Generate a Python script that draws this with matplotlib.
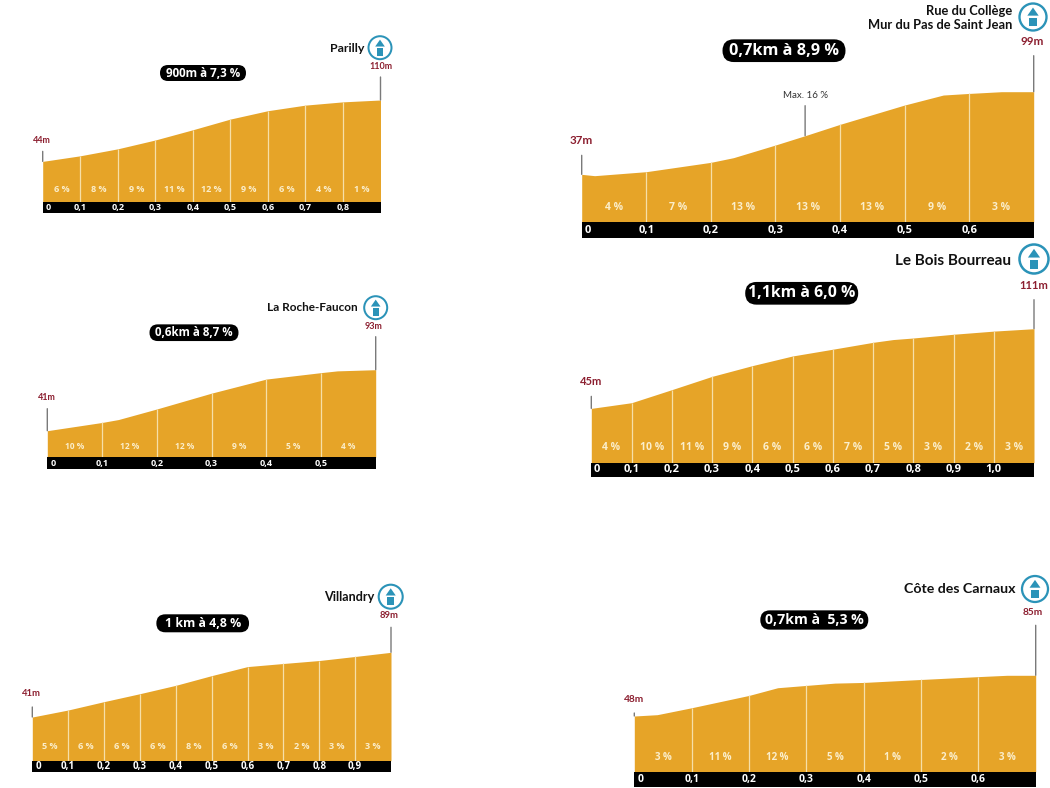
import matplotlib
matplotlib.use('Agg')
import matplotlib.pyplot as plt
import numpy as np
from matplotlib.patches import Circle, FancyBboxPatch, Polygon, Rectangle

WIDTH, HEIGHT = 1050, 788

NAMES = ['Parilly', 'Rue du Collège\nMur du Pas de Saint Jean', 'La Roche-Faucon',
         'Le Bois Bourreau', 'Villandry', 'Côte des Carnaux']
SUMMARIES = ['900m à 7,3 %', '0,7km à 8,9 %', '0,6km à 8,7 %',
             '1,1km à 6,0 %', '1 km à 4,8 %', '0,7km à  5,3 %']
START_LABELS = ['44m', '37m', '41m', '45m', '41m', '48m']
END_LABELS = ['110m', '99m', '93m', '111m', '89m', '85m']

KM_PARILLY = [0, 0.1, 0.2, 0.3, 0.4, 0.5, 0.6, 0.7, 0.8, 0.9]
ELEV_PARILLY = [44, 50, 57.5, 67, 78, 89.5, 98.5, 104.5, 108, 110]
GRADE_PARILLY = ['6 %', '8 %', '9 %', '11 %', '12 %', '9 %', '6 %', '4 %', '1 %']

KM_COLLEGE = [0, 0.02, 0.1, 0.2, 0.235, 0.3, 0.346, 0.4, 0.5, 0.56, 0.6, 0.65, 0.7]
ELEV_COLLEGE = [37, 36, 39, 46, 49.5, 59, 66, 74.5, 89, 96.5, 97.7, 99, 99]
GRADE_COLLEGE = ['4 %', '7 %', '13 %', '13 %', '13 %', '9 %', '3 %']
MAX_KM = 0.346

KM_ROCHE = [0, 0.1, 0.13, 0.2, 0.3, 0.4, 0.5, 0.53, 0.6]
ELEV_ROCHE = [41, 48, 50.5, 59.5, 73, 85, 90.5, 92, 93]
GRADE_ROCHE = ['10 %', '12 %', '12 %', '9 %', '5 %', '4 %']

KM_BOIS = [0, 0.1, 0.2, 0.3, 0.4, 0.5, 0.6, 0.7, 0.75, 0.8, 0.9, 1.0, 1.1]
ELEV_BOIS = [45, 49.7, 60.5, 71.5, 80.4, 88.4, 94, 99.7, 102, 103.3, 106.4, 109, 111]
GRADE_BOIS = ['4 %', '10 %', '11 %', '9 %', '6 %', '6 %', '7 %', '5 %', '3 %', '2 %', '3 %']

KM_VILLANDRY = [0, 0.1, 0.2, 0.3, 0.4, 0.5, 0.6, 0.7, 0.8, 0.9, 1.0]
ELEV_VILLANDRY = [41, 46.2, 52.4, 58.3, 64.5, 71.7, 78.4, 80.7, 82.9, 85.9, 89]
GRADE_VILLANDRY = ['5 %', '6 %', '6 %', '6 %', '8 %', '6 %', '3 %', '2 %', '3 %', '3 %']

KM_CARNAUX = [0, 0.04, 0.1, 0.2, 0.25, 0.3, 0.35, 0.4, 0.5, 0.6, 0.65, 0.7]
ELEV_CARNAUX = [48, 49.2, 55.5, 66.7, 73.7, 75.8, 77.9, 78.5, 81.2, 83.8, 85, 85]
GRADE_CARNAUX = ['3 %', '11 %', '12 %', '5 %', '1 %', '2 %', '3 %']

KMS = [KM_PARILLY, KM_COLLEGE, KM_ROCHE, KM_BOIS, KM_VILLANDRY, KM_CARNAUX]
ELEVS = [ELEV_PARILLY, ELEV_COLLEGE, ELEV_ROCHE, ELEV_BOIS, ELEV_VILLANDRY, ELEV_CARNAUX]
GRADES = [GRADE_PARILLY, GRADE_COLLEGE, GRADE_ROCHE, GRADE_BOIS, GRADE_VILLANDRY, GRADE_CARNAUX]
BASES = [0, 1.25, 18.3, 0, 8.6, -2.9]

# layout, in pixels of the 1050x788 picture
# left, right, top of profile, top of bar, bottom of bar
BOXES = [(42.7, 380.5, 100, 202.3, 213.3), (581.7, 1033.7, 91.7, 222, 238.3),
         (47.3, 375.7, 369.7, 457.3, 469), (591.3, 1034, 328.7, 462.7, 477),
         (32.3, 391, 652.3, 760.7, 772.3), (634.3, 1035.7, 675.3, 772, 786.7)]
STEMS = [(10, 23), (19, 36), (22, 33), (12, 29), (10, 25), (3, 50)]
START_POS = [(42, 140), (581, 140), (47, 397.7), (591, 381), (31.7, 694), (634, 699.3)]
END_POS = [(381, 66.7), (1032, 41.7), (374, 326), (1034, 285), (388.7, 616), (1033, 612.3)]
NAME_POS = [(364, 48), (1012, 17.5), (358, 307), (1010.7, 260.7), (374, 597), (1016, 589)]
ICONS = [(380, 47.7, 11.5), (1033, 17, 13.5), (375.7, 307.7, 11.5),
         (1034, 259, 14.5), (390.7, 596.7, 12), (1035, 589, 13)]
PILLS = [(203, 73, 86, 16), (784, 50.7, 123, 22.7), (194, 332.7, 89, 16.7),
         (801.7, 293.3, 113, 22.7), (202.7, 623.3, 92.7, 18), (814.3, 620, 108, 19.3)]
# font sizes: name, summary, elevation, grade, km
SIZES = [(8.9, 8.4, 6.5, 6.5, 6.5), (9.3, 11.7, 8.4, 7.5, 8), (8.5, 8.3, 6.5, 6, 6.5),
         (11, 11.4, 8, 7.5, 8), (9.1, 8.9, 6.8, 6.5, 7), (10.2, 10.2, 7.3, 7, 7.5)]
GRADE_OFFSET = [13, 15, 11, 15, 14, 14]

ORANGE = '#e6a428'
CREAM = '#f6dfa8'
LABEL = '#fbeecb'
TEAL = '#2b93b8'
RED = '#8c1f30'
GREY = '#7a7a7a'
TITLE_FONT = ['Lato', 'DejaVu Sans']
SANS = ['Open Sans', 'DejaVu Sans']


def px_axes(fig, left, right, top, bottom):
    return fig.add_axes([left / WIDTH, 1 - bottom / HEIGHT,
                         (right - left) / WIDTH, (bottom - top) / HEIGHT])


def draw_icon(overlay, x, y, r):
    overlay.add_patch(Circle((x, y), r, facecolor='white', edgecolor=TEAL, linewidth=r / 8))
    overlay.add_patch(Polygon([(x - 0.42 * r, y - 0.1 * r), (x, y - 0.7 * r), (x + 0.42 * r, y - 0.1 * r)],
                              facecolor=TEAL, edgecolor='none'))
    overlay.add_patch(Rectangle((x - 0.27 * r, y + 0.05 * r), 0.54 * r, 0.65 * r, facecolor=TEAL, edgecolor='none'))


def draw_profile(fig, i):
    left, right, top, bar_top, bar_bottom = BOXES[i]
    km = KMS[i]
    elev = ELEVS[i]
    sizes = SIZES[i]

    ax = px_axes(fig, left, right, top, bar_top)
    ax.set_xlim(0, km[-1])
    ax.set_ylim(BASES[i], max(elev))
    ax.axis('off')
    ax.fill_between(km, elev, BASES[i], color=ORANGE, linewidth=0)

    count = len(GRADES[i])
    ticks = [n / 10 for n in range(count + 1)]
    for tick in ticks[1:-1]:
        ax.vlines(tick, BASES[i], np.interp(tick, km, elev), color=CREAM, linewidth=0.9)
    for n, grade in enumerate(GRADES[i]):
        ax.annotate(grade, ((n + 0.5) / 10, BASES[i]), xytext=(0, GRADE_OFFSET[i]),
                    textcoords='offset pixels', ha='center', va='center', color=LABEL,
                    fontsize=sizes[3], fontweight='bold', family=SANS)

    for x, y, rise in [(km[0], elev[0], STEMS[i][0]), (km[-1], elev[-1], STEMS[i][1])]:
        ax.annotate('', xy=(x, y), xytext=(0, rise), textcoords='offset pixels',
                    arrowprops=dict(arrowstyle='-', color=GREY, linewidth=1, shrinkA=0, shrinkB=0))

    bar = px_axes(fig, left, right, bar_top, bar_bottom)
    bar.set_xlim(0, km[-1])
    bar.set_ylim(0, 1)
    bar.set_xticks([])
    bar.set_yticks([])
    bar.set_facecolor('black')
    for spine in bar.spines.values():
        spine.set_visible(False)
    for n, tick in enumerate(ticks[:-1]):
        label = '0' if n == 0 else f'{tick:.1f}'.replace('.', ',')
        bar.annotate(label, (tick, 0.5), xytext=(6 if n == 0 else 0, 0), textcoords='offset pixels',
                     ha='center', va='center', color='white', fontsize=sizes[4],
                     fontweight='bold', family=SANS)


def main():
    fig = plt.figure(figsize=(WIDTH / 100, HEIGHT / 100), dpi=100, facecolor='white')

    for i in range(len(NAMES)):
        draw_profile(fig, i)

    overlay = fig.add_axes([0, 0, 1, 1], zorder=5)
    overlay.set_xlim(0, WIDTH)
    overlay.set_ylim(HEIGHT, 0)
    overlay.axis('off')
    for i in range(len(NAMES)):
        sizes = SIZES[i]
        overlay.text(*NAME_POS[i], NAMES[i], ha='right', va='center', fontsize=sizes[0],
                     fontweight='bold', family=TITLE_FONT, color='#111111', linespacing=1.2)
        draw_icon(overlay, *ICONS[i])
        x, y, w, h = PILLS[i]
        overlay.add_patch(FancyBboxPatch((x - w / 2 + h / 2, y), w - h, 0,
                                         boxstyle=f'round,pad={h / 2},rounding_size={h / 2}',
                                         facecolor='black', edgecolor='none'))
        overlay.text(x, y, SUMMARIES[i], ha='center', va='center', color='white',
                     fontsize=sizes[1], fontweight='bold', family=SANS)
        overlay.text(*START_POS[i], START_LABELS[i], ha='center', va='center', color=RED,
                     fontsize=sizes[2], fontweight='bold', family=TITLE_FONT)
        overlay.text(*END_POS[i], END_LABELS[i], ha='center', va='center', color=RED,
                     fontsize=sizes[2], fontweight='bold', family=TITLE_FONT)

    # steepest point of the Rue du College climb
    overlay.text(805.7, 95.7, 'Max. 16 %', ha='center', va='center', color='#333333',
                 fontsize=7, family=TITLE_FONT)
    profile = fig.axes[2]
    profile.annotate('', xy=(MAX_KM, np.interp(MAX_KM, KM_COLLEGE, ELEV_COLLEGE)), xytext=(0, 30),
                     textcoords='offset pixels',
                     arrowprops=dict(arrowstyle='-', color=GREY, linewidth=1, shrinkA=0, shrinkB=0))

    fig.savefig('out.png', dpi=100)


if __name__ == '__main__':
    main()
